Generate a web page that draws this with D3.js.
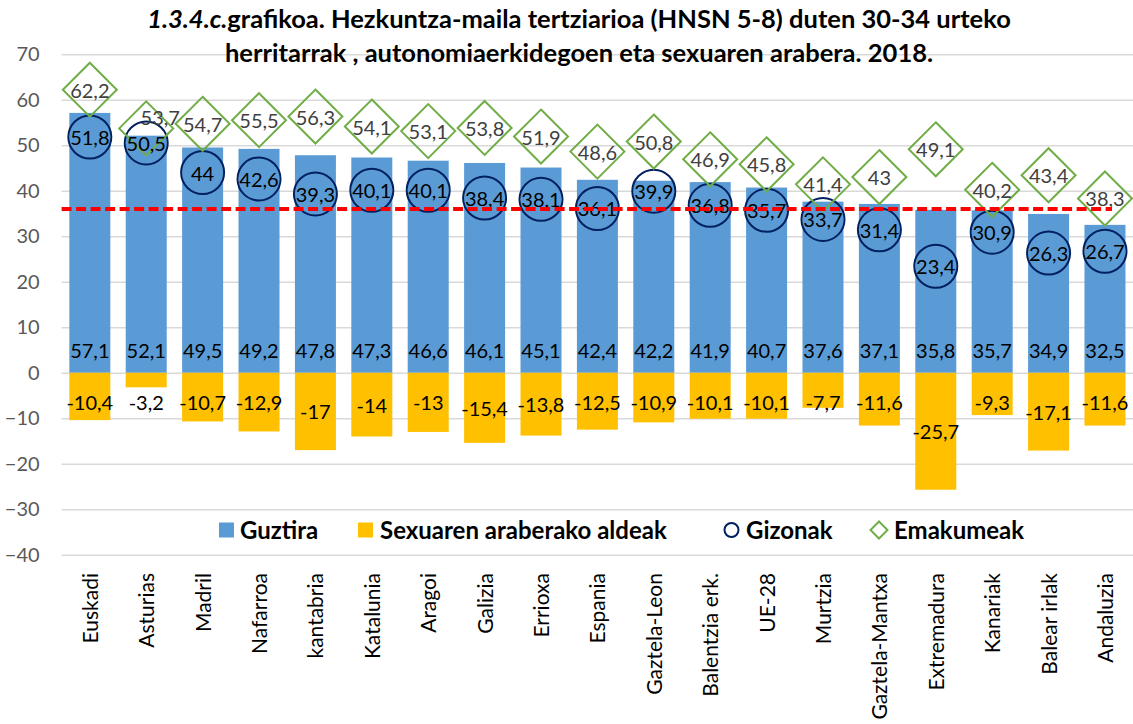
<!DOCTYPE html>
<html>
<head>
<meta charset="utf-8">
<script src="https://cdn.jsdelivr.net/npm/d3@7"></script>
<style>
  body { margin: 0; background: #fff; }
  svg { font-family: Lato, "Open Sans", sans-serif; }
</style>
</head>
<body>
<svg width="1133" height="724"></svg>
<script>
// data
const regions = ['Euskadi', 'Asturias', 'Madril', 'Nafarroa', 'kantabria', 'Katalunia', 'Aragoi',
  'Galizia', 'Errioxa', 'Espania', 'Gaztela-Leon', 'Balentzia erk.', 'UE-28', 'Murtzia',
  'Gaztela-Mantxa', 'Extremadura', 'Kanariak', 'Balear irlak', 'Andaluzia'];
const guztira = [57.1, 52.1, 49.5, 49.2, 47.8, 47.3, 46.6, 46.1, 45.1, 42.4, 42.2, 41.9, 40.7, 37.6, 37.1, 35.8, 35.7, 34.9, 32.5];
const aldeak = [-10.4, -3.2, -10.7, -12.9, -17, -14, -13, -15.4, -13.8, -12.5, -10.9, -10.1, -10.1, -7.7, -11.6, -25.7, -9.3, -17.1, -11.6];
const gizonak = [51.8, 50.5, 44, 42.6, 39.3, 40.1, 40.1, 38.4, 38.1, 36.1, 39.9, 36.8, 35.7, 33.7, 31.4, 23.4, 30.9, 26.3, 26.7];
const emakumeak = [62.2, 53.7, 54.7, 55.5, 56.3, 54.1, 53.1, 53.8, 51.9, 48.6, 50.8, 46.9, 45.8, 41.4, 43, 49.1, 40.2, 43.4, 38.3];
const yTicks = [70, 60, 50, 40, 30, 20, 10, 0, -10, -20, -30, -40];
const refValue = 36;
const legendLabels = ['Guztira', 'Sexuaren araberako aldeak', 'Gizonak', 'Emakumeak'];

const svg = d3.select('svg');
const fmt = v => String(v).replace('.', ',');

const x = d3.scaleBand().domain(regions).range([61.6, 1133.2]).paddingInner(0.273).paddingOuter(0.137);
const y = d3.scaleLinear().domain([-40, 70]).range([554.8, 54.2]);
const cx = d => x(d) + x.bandwidth() / 2;

// grid + y axis
const yAxis = svg.append('g')
  .attr('transform', 'translate(61.6,0)')
  .call(d3.axisLeft(y).tickValues(yTicks).tickSize(-1072).tickPadding(22));
yAxis.select('.domain').remove();
yAxis.selectAll('.tick line').attr('stroke', '#d9d9d9').attr('stroke-width', 1.5);
yAxis.selectAll('.tick text')
  .attr('fill', '#595959')
  .attr('font-size', 20)
  .attr('font-family', 'Lato, sans-serif');

// title
const title = svg.append('text')
  .attr('text-anchor', 'middle')
  .attr('font-weight', 'bold')
  .attr('font-size', 25.5)
  .attr('fill', '#000');
const t1 = title.append('tspan').attr('x', 579).attr('y', 28);
t1.append('tspan').attr('font-style', 'italic').text('1.3.4.c.');
t1.append('tspan').text('grafikoa. Hezkuntza-maila tertziarioa (HNSN 5-8) duten 30-34 urteko');
title.append('tspan').attr('x', 579).attr('y', 62)
  .text('herritarrak , autonomiaerkidegoen eta sexuaren arabera. 2018.');

// bars
svg.append('g').selectAll('rect')
  .data(regions)
  .join('rect')
  .attr('x', d => x(d))
  .attr('width', x.bandwidth())
  .attr('y', (d, i) => y(guztira[i]))
  .attr('height', (d, i) => y(0) - y(guztira[i]))
  .attr('fill', '#5b9bd5');

svg.append('g').selectAll('rect')
  .data(regions)
  .join('rect')
  .attr('x', d => x(d))
  .attr('width', x.bandwidth())
  .attr('y', y(0))
  .attr('height', (d, i) => y(aldeak[i]) - y(0))
  .attr('fill', '#ffc000');

// x labels
svg.append('g').selectAll('text')
  .data(regions)
  .join('text')
  .attr('transform', d => `translate(${cx(d) + 8},573) rotate(-90)`)
  .attr('text-anchor', 'end')
  .attr('font-size', 21)
  .attr('fill', '#000')
  .text(d => d);

// markers
svg.append('g').selectAll('circle')
  .data(regions)
  .join('circle')
  .attr('cx', d => cx(d))
  .attr('cy', (d, i) => y(gizonak[i]))
  .attr('r', 21.5)
  .attr('fill', 'none')
  .attr('stroke', '#002060')
  .attr('stroke-width', 2);

const diamond = r => `M0,${-r}L${r},0L0,${r}L${-r},0Z`;
svg.append('g').selectAll('path')
  .data(regions)
  .join('path')
  .attr('transform', (d, i) => `translate(${cx(d)},${y(emakumeak[i])})`)
  .attr('d', diamond(27))
  .attr('fill', 'none')
  .attr('stroke', '#70ad47')
  .attr('stroke-width', 2);

// value labels
const labels = svg.append('g')
  .attr('font-size', 20)
  .attr('text-anchor', 'middle')
  .attr('dominant-baseline', 'central');

labels.selectAll('.lg')
  .data(regions)
  .join('text')
  .attr('class', 'lg')
  .attr('x', d => cx(d))
  .attr('y', y(5.1))
  .attr('fill', '#000')
  .text((d, i) => fmt(guztira[i]));

labels.selectAll('.la')
  .data(regions)
  .join('text')
  .attr('class', 'la')
  .attr('x', d => cx(d))
  .attr('y', (d, i) => Math.max(y(aldeak[i] / 2), y(0) + 29))
  .attr('fill', '#000')
  .text((d, i) => fmt(aldeak[i]));

labels.selectAll('.lm')
  .data(regions)
  .join('text')
  .attr('class', 'lm')
  .attr('x', d => cx(d))
  .attr('y', (d, i) => y(gizonak[i]))
  .attr('fill', '#000')
  .text((d, i) => fmt(gizonak[i]));

// Asturias label was nudged up-right in the original
labels.selectAll('.lw')
  .data(regions)
  .join('text')
  .attr('class', 'lw')
  .attr('x', (d, i) => cx(d) + (i === 1 ? 14 : 0))
  .attr('y', (d, i) => y(emakumeak[i]) + (i === 1 ? -11 : 0))
  .attr('fill', '#404040')
  .text((d, i) => fmt(emakumeak[i]));

// reference line
svg.append('line')
  .attr('x1', 61.6)
  .attr('x2', cx(regions[regions.length - 1]) + 7)
  .attr('y1', y(refValue))
  .attr('y2', y(refValue))
  .attr('stroke', '#ff0000')
  .attr('stroke-width', 4)
  .attr('stroke-dasharray', '10,4.5');

// legend
const legend = svg.append('g')
  .attr('font-size', 24)
  .attr('font-weight', 'bold');
const legendX = [219, 358, 724, 871];
legend.append('rect').attr('x', legendX[0]).attr('y', 522.5).attr('width', 15).attr('height', 15).attr('fill', '#5b9bd5');
legend.append('rect').attr('x', legendX[1]).attr('y', 522.5).attr('width', 15).attr('height', 15).attr('fill', '#ffc000');
legend.append('circle').attr('cx', legendX[2] + 7.5).attr('cy', 530).attr('r', 7)
  .attr('fill', 'none').attr('stroke', '#002060').attr('stroke-width', 2);
legend.append('path').attr('transform', `translate(${legendX[3] + 8},530)`).attr('d', diamond(8.5))
  .attr('fill', 'none').attr('stroke', '#70ad47').attr('stroke-width', 2);
legend.selectAll('text')
  .data(legendLabels)
  .join('text')
  .attr('x', (d, i) => legendX[i] + [21, 22, 22, 23][i])
  .attr('y', 529)
  .attr('dominant-baseline', 'central')
  .attr('fill', '#000')
  .text(d => d);
</script>
</body>
</html>
